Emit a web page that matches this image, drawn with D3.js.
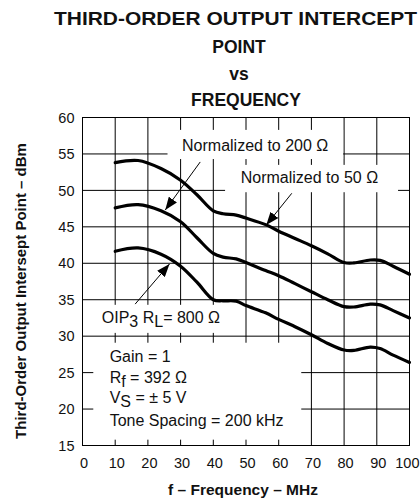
<!DOCTYPE html>
<html>
<head>
<meta charset="utf-8">
<script src="https://cdn.jsdelivr.net/npm/d3@7"></script>
<style>
  html, body { margin: 0; padding: 0; background: #fff; }
  svg { display: block; }
</style>
</head>
<body>
<svg id="chart" width="420" height="500"></svg>
<script>
// ---- data ----
const freq    = [10, 17, 24, 30, 35, 40, 43, 47, 50, 56, 60, 65, 70, 75, 80, 83, 88, 91, 95, 100];
const oip50   = [53.8, 54.1, 53.0, 51.4, 49.4, 47.2, 46.8, 46.6, 46.2, 45.3, 44.4, 43.4, 42.4, 41.3, 40.1, 40.05, 40.45, 40.4, 39.6, 38.5];
const oip200  = [47.6, 48.05, 47.2, 45.7, 43.5, 41.35, 40.85, 40.6, 40.1, 39.0, 38.3, 37.2, 36.1, 35.0, 34.05, 34.0, 34.4, 34.3, 33.5, 32.5];
const oip800  = [41.65, 42.1, 41.25, 39.6, 37.4, 35.0, 34.85, 34.8, 34.2, 33.2, 32.3, 31.3, 30.2, 29.0, 28.1, 28.05, 28.5, 28.3, 27.4, 26.4];
const xTicks  = [0, 10, 20, 30, 40, 50, 60, 70, 80, 90, 100];
const yTicks  = [15, 20, 25, 30, 35, 40, 45, 50, 55, 60];
const titleLines = ["THIRD-ORDER OUTPUT INTERCEPT", "POINT", "vs", "FREQUENCY"];
const xLabel = "f \u2013 Frequency \u2013 MHz";
const yLabel = "Third-Order Output Intersept Point \u2013 dBm";
const conditions = [
  [["Gain = 1", false]],
  [["R", false], ["f", true], [" = 392 \u03A9", false]],
  [["V", false], ["S", true], [" = \u00B1 5 V", false]],
  [["Tone Spacing = 200 kHz", false]]
];

const FONT = "'Liberation Sans', Arial, Helvetica, sans-serif";
const svg = d3.select("#chart");

const x = d3.scaleLinear().domain([0, 100]).range([82.5, 409.5]);
const y = d3.scaleLinear().domain([15, 60]).range([445.5, 117.5]);

// ---- title ----
const title = svg.append("g").attr("font-family", FONT).attr("font-weight", "bold")
  .attr("font-size", 17.5).attr("fill", "#111").attr("text-anchor", "middle");
const titleY = [25, 53, 80, 106];
const titleX = [235.5, 239, 239, 246];
titleLines.forEach((t, i) => {
  const el = title.append("text").attr("x", titleX[i]).attr("y", titleY[i]).text(t);
  if (i === 0) el.attr("textLength", 363).attr("lengthAdjust", "spacingAndGlyphs");
});

// ---- grid ----
const grid = svg.append("g").attr("stroke", "#000").attr("stroke-width", 1);
grid.selectAll("line.v").data(xTicks.slice(1, -1)).join("line")
  .attr("x1", d => x(d)).attr("x2", d => x(d)).attr("y1", y(15)).attr("y2", y(60));
grid.selectAll("line.h").data(yTicks.slice(1, -1)).join("line")
  .attr("y1", d => y(d)).attr("y2", d => y(d)).attr("x1", x(0)).attr("x2", x(100));

// ---- white label backgrounds (break the grid like the reference) ----
const boxes = [
  {x0: 26, x1: 79.7, y0: 58.3, y1: 54.3},
  {x0: 43.6, x1: 96.5, y0: 53.5, y1: 49.75},
  {x0: 0, x1: 43.6, y0: 34.3, y1: 30.45},
  {x0: 3.3, x1: 66.9, y0: 29.1, y1: 15.8}
];
svg.append("g").selectAll("rect").data(boxes).join("rect")
  .attr("x", d => x(d.x0)).attr("y", d => y(d.y0))
  .attr("width", d => x(d.x1) - x(d.x0)).attr("height", d => y(d.y1) - y(d.y0))
  .attr("fill", "#fff");

// ---- frame ----
svg.append("rect").attr("x", x(0)).attr("y", y(60))
  .attr("width", x(100) - x(0)).attr("height", y(15) - y(60))
  .attr("fill", "none").attr("stroke", "#000").attr("stroke-width", 1);

// ---- curves ----
const line = d3.line().x(d => x(d[0])).y(d => y(d[1])).curve(d3.curveCatmullRom.alpha(0.5));
[oip50, oip200, oip800].forEach(series => {
  svg.append("path").datum(freq.map((f, i) => [f, series[i]]))
    .attr("d", line).attr("fill", "none").attr("stroke", "#000")
    .attr("stroke-width", 3.2).attr("stroke-linejoin", "round").attr("stroke-linecap", "round");
});

// ---- axes (labels only) ----
const xAxis = svg.append("g").attr("transform", `translate(1,${y(15)})`)
  .call(d3.axisBottom(x).tickValues(xTicks).tickSize(0).tickPadding(12).tickFormat(d3.format("d")));
const yAxis = svg.append("g").attr("transform", `translate(${x(0)},0)`)
  .call(d3.axisLeft(y).tickValues(yTicks).tickSize(0).tickPadding(8).tickFormat(d3.format("d")));
[xAxis, yAxis].forEach(a => {
  a.select(".domain").remove();
  a.selectAll("text").attr("font-family", FONT).attr("font-size", 14.5).attr("fill", "#111");
});
xAxis.selectAll(".tick text").filter(d => d === 100)
  .attr("text-anchor", "end").attr("x", 8.5);

// ---- axis titles ----
svg.append("text").attr("x", 243).attr("y", 495).attr("text-anchor", "middle")
  .attr("font-family", FONT).attr("font-weight", "bold").attr("font-size", 15.5).attr("fill", "#111")
  .text(xLabel);
svg.append("text").attr("transform", "translate(26,291) rotate(-90)").attr("text-anchor", "middle")
  .attr("font-family", FONT).attr("font-weight", "bold").attr("font-size", 15).attr("fill", "#111")
  .text(yLabel);

// ---- annotations ----
const defs = svg.append("defs");
defs.append("marker").attr("id", "ah").attr("markerUnits", "userSpaceOnUse")
  .attr("markerWidth", 14).attr("markerHeight", 10).attr("refX", 13).attr("refY", 5)
  .attr("orient", "auto")
  .append("path").attr("d", "M0,0 L13,5 L0,10 Z").attr("fill", "#000");

const arrows = [
  {fx: 36.0, fy: 53.9, tx: 25.3, ty: 47.3},
  {fx: 64.0, fy: 49.6, tx: 56.2, ty: 45.25},
  {fx: 16.1, fy: 34.4, tx: 26.6, ty: 39.9}
];
svg.append("g").selectAll("line").data(arrows).join("line")
  .attr("x1", d => x(d.fx)).attr("y1", d => y(d.fy))
  .attr("x2", d => x(d.tx)).attr("y2", d => y(d.ty))
  .attr("stroke", "#000").attr("stroke-width", 1).attr("marker-end", "url(#ah)");

const ann = svg.append("g").attr("font-family", FONT).attr("font-size", 16).attr("fill", "#111");
ann.append("text").attr("x", x(52.8)).attr("y", y(55.4)).attr("text-anchor", "middle")
  .text("Normalized to 200 \u03A9");
ann.append("text").attr("x", x(69.4)).attr("y", y(51.05)).attr("text-anchor", "middle")
  .text("Normalized to 50 \u03A9");

const oip = ann.append("text").attr("x", x(5.9)).attr("y", y(31.8));
oip.append("tspan").text("OIP");
oip.append("tspan").attr("dy", 4).text("3");
oip.append("tspan").attr("dy", -4).text(" R");
oip.append("tspan").attr("dy", 4).text("L");
oip.append("tspan").attr("dy", -4).text("= 800 \u03A9");

const condY = [26.4, 23.6, 20.8, 17.65];
conditions.forEach((parts, i) => {
  const t = ann.append("text").attr("x", x(8.3)).attr("y", y(condY[i]));
  let sub = false;
  parts.forEach(([s, isSub]) => {
    const dy = isSub && !sub ? 4 : (!isSub && sub ? -4 : 0);
    t.append("tspan").attr("dy", dy).text(s);
    sub = isSub;
  });
});
</script>
</body>
</html>
